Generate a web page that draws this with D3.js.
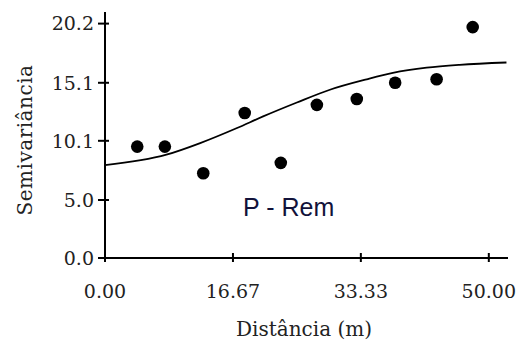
<!DOCTYPE html>
<html>
<head>
<meta charset="utf-8">
<script src="https://cdn.jsdelivr.net/npm/d3@7"></script>
<style>
  body { margin: 0; background: #fff; }
  svg { display: block; }
</style>
</head>
<body>
<div id="chart"></div>
<script>
// Experimental semivariance (lag distance, value)
const lagDistances = [4.2, 7.8, 12.8, 18.2, 22.9, 27.6, 32.8, 37.8, 43.2, 47.9];
const semivariances = [9.6, 9.6, 7.3, 12.5, 8.2, 13.2, 13.7, 15.1, 15.4, 19.9];

// Fitted model curve
const modelDistances = [0, 8.0, 12.4, 17.2, 20.6, 25.0, 29.3, 34.1, 37.5, 41.9, 46.2, 52.3];
const modelValues = [8.0, 8.9, 9.9, 11.2, 12.2, 13.4, 14.5, 15.4, 15.95, 16.4, 16.65, 16.85];

const xTicks = [0, 16.67, 33.33, 50];
const xTickLabels = ["0.00", "16.67", "33.33", "50.00"];
const yTicks = [0, 5.0, 10.1, 15.1, 20.2];
const yTickLabels = ["0.0", "5.0", "10.1", "15.1", "20.2"];

const width = 516, height = 345;
const plot = { left: 105, right: 508, top: 12, bottom: 258 };
const tickFont = "'DejaVu Serif', serif";

const svg = d3.select("#chart").append("svg")
  .attr("width", width)
  .attr("height", height);

const x = d3.scaleLinear().domain([0, 52.5]).range([plot.left, plot.right]);
const y = d3.scaleLinear().domain([0, 21.2]).range([plot.bottom, plot.top]);

// axes lines
svg.append("line")
  .attr("x1", plot.left).attr("x2", plot.right)
  .attr("y1", plot.bottom).attr("y2", plot.bottom)
  .attr("stroke", "#000").attr("stroke-width", 2);
svg.append("line")
  .attr("x1", plot.left).attr("x2", plot.left)
  .attr("y1", plot.top).attr("y2", plot.bottom)
  .attr("stroke", "#000").attr("stroke-width", 2);

// y ticks (crossing the axis)
const yt = svg.append("g").selectAll("g").data(yTicks).enter().append("g");
yt.append("line")
  .attr("x1", plot.left - 7).attr("x2", plot.left + 4)
  .attr("y1", d => y(d)).attr("y2", d => y(d))
  .attr("stroke", "#000").attr("stroke-width", 2);
yt.append("text")
  .attr("x", plot.left - 11)
  .attr("y", d => y(d))
  .attr("dy", "0.36em")
  .attr("text-anchor", "end")
  .style("font-family", tickFont)
  .style("font-size", "19px")
  .attr("fill", "#222")
  .text((d, i) => yTickLabels[i]);

// x ticks
const xt = svg.append("g").selectAll("g").data(xTicks).enter().append("g");
xt.append("line")
  .attr("x1", d => x(d)).attr("x2", d => x(d))
  .attr("y1", plot.bottom - 5).attr("y2", plot.bottom + 4)
  .attr("stroke", "#000").attr("stroke-width", 2);
xt.append("text")
  .attr("x", d => x(d))
  .attr("y", 298)
  .attr("text-anchor", "middle")
  .style("font-family", tickFont)
  .style("font-size", "19px")
  .attr("fill", "#222")
  .text((d, i) => xTickLabels[i]);

// model curve
const line = d3.line()
  .x(d => x(d[0]))
  .y(d => y(d[1]))
  .curve(d3.curveMonotoneX);
svg.append("path")
  .datum(modelDistances.map((d, i) => [d, modelValues[i]]))
  .attr("d", line)
  .attr("fill", "none")
  .attr("stroke", "#000")
  .attr("stroke-width", 1.8);

// experimental points
svg.append("g").selectAll("circle")
  .data(lagDistances.map((d, i) => [d, semivariances[i]]))
  .enter().append("circle")
  .attr("cx", d => x(d[0]))
  .attr("cy", d => y(d[1]))
  .attr("r", 6.3)
  .attr("fill", "#000");

// annotation
svg.append("text")
  .attr("x", 243)
  .attr("y", 216)
  .style("font-family", "'Liberation Sans', Arial, sans-serif")
  .style("font-size", "25px")
  .attr("fill", "#12123a")
  .text("P - Rem");

// axis titles
svg.append("text")
  .attr("x", 304)
  .attr("y", 336)
  .attr("text-anchor", "middle")
  .style("font-family", tickFont)
  .style("font-size", "20px")
  .attr("fill", "#222")
  .text("Distância (m)");

svg.append("text")
  .attr("transform", "translate(32,140) rotate(-90)")
  .attr("text-anchor", "middle")
  .style("font-family", tickFont)
  .style("font-size", "20px")
  .style("letter-spacing", "0.5px")
  .attr("fill", "#222")
  .text("Semivariância");
</script>
</body>
</html>
